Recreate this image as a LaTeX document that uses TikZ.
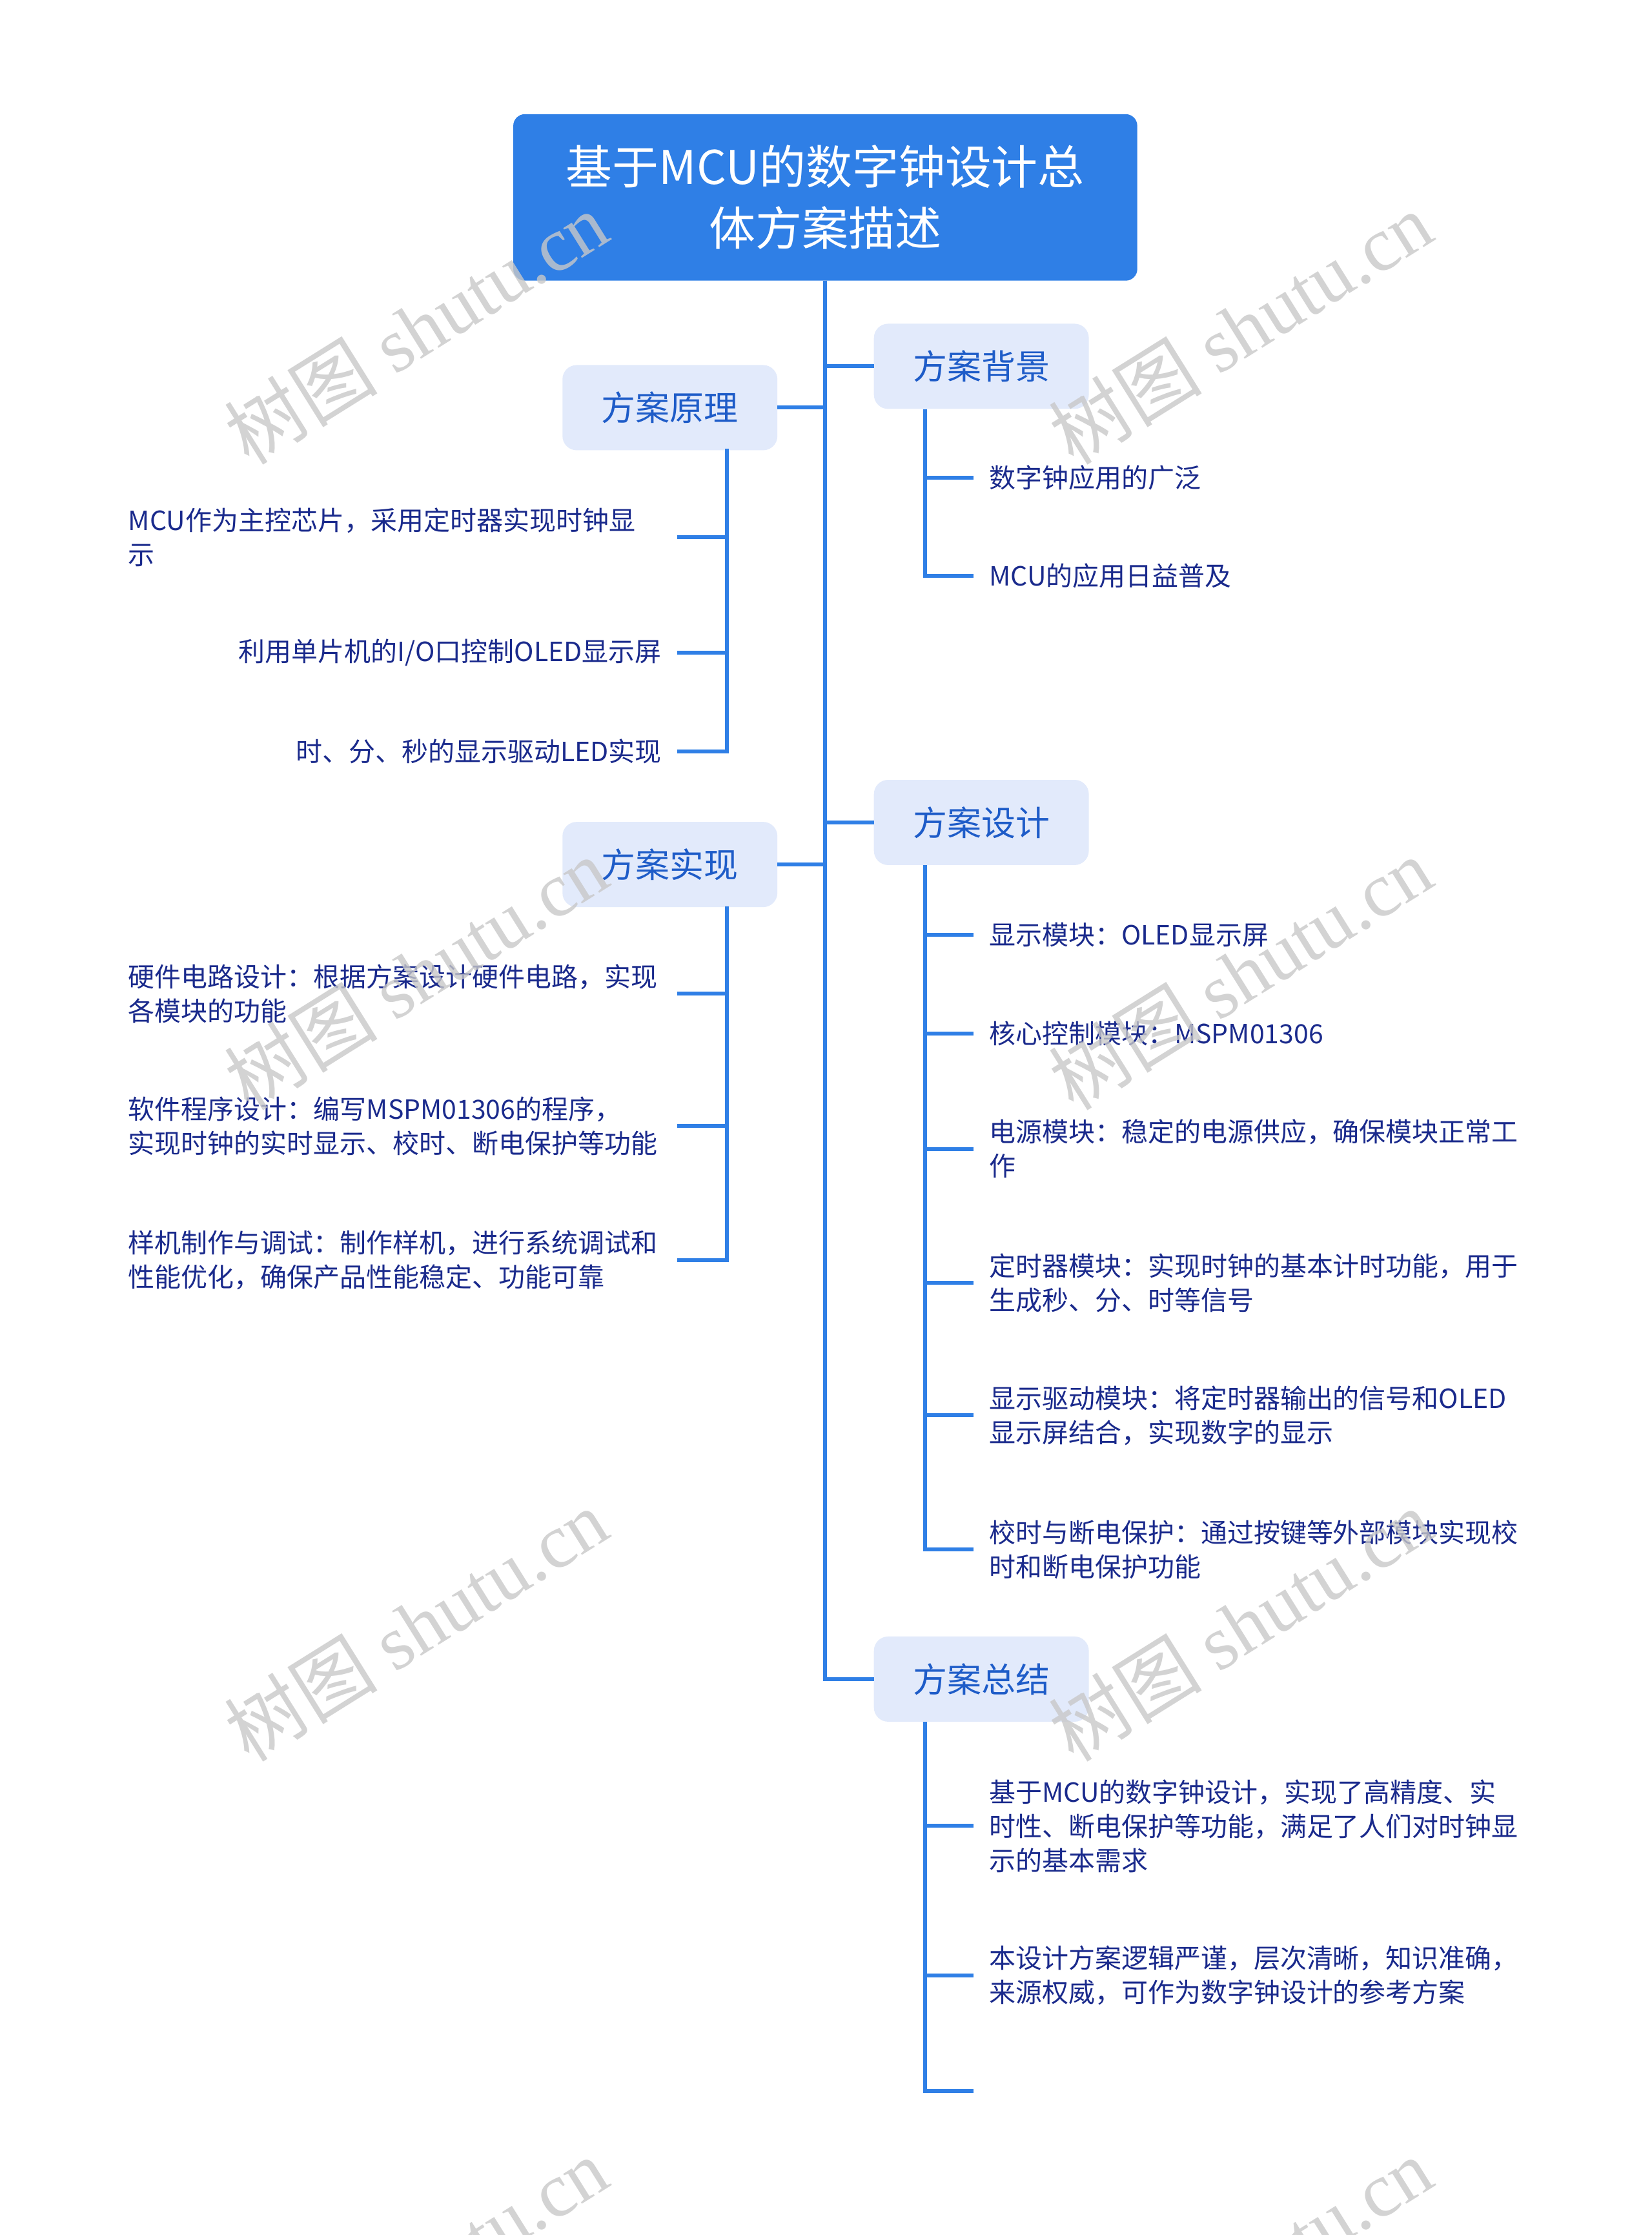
\documentclass[tikz,border=0pt]{standalone}
\usepackage{fontspec}
\setmainfont{Noto Sans CJK SC}
\newfontfamily\wmlatin{Liberation Serif}
\definecolor{mainblue}{HTML}{2F7FE6}
\definecolor{subfill}{HTML}{E2EAFB}
\definecolor{subtext}{HTML}{1E5CC8}
\definecolor{leaftext}{HTML}{1A2A8C}
\definecolor{wmgray}{HTML}{C8C8C8}
\tikzset{
  conn/.style={draw=mainblue, line width=6pt},
  rootbox/.style={fill=mainblue, rounded corners=18pt, minimum width=967pt, minimum height=258pt,
    text=white, align=center, font=\fontsize{72pt}{95pt}\selectfont},
  subbox/.style={fill=subfill, rounded corners=22pt, minimum width=333pt, minimum height=132pt,
    text=subtext, font=\fontsize{53pt}{64pt}\selectfont},
  leaf/.style={text=leaftext, font=\fontsize{41pt}{53pt}\selectfont, inner xsep=24pt, inner ysep=4pt, align=left},
  leafL/.style={leaf, anchor=east},
  leafR/.style={leaf, anchor=west},
  wide/.style={text width=826pt},
  wmark/.style={text=wmgray, text opacity=0.8, rotate=32, inner sep=0pt,
    font=\fontsize{119pt}{119pt}\selectfont}
}
\begin{document}
\begin{tikzpicture}[x=2.2088pt,y=-2.2088pt]
\useasboundingbox (0,0) rectangle (1159,1568);
\fill[white] (0,0) rectangle (1159,1568);

% root
\node[rootbox] (root) at (579,138.5) {基于MCU的数字钟设计总\\体方案描述};

% main branches
\node[subbox] (s1) at (470,286) {方案原理};
\node[subbox] (s2) at (470,606.5) {方案实现};
\node[subbox] (s3) at (688.5,257) {方案背景};
\node[subbox] (s4) at (688.5,577) {方案设计};
\node[subbox] (s5) at (688.5,1178) {方案总结};

% trunk and branch connectors
\draw[conn] (root.south) |- (s5.west);
\draw[conn] (root.south) |- (s1.east);
\draw[conn] (root.south) |- (s2.east);
\draw[conn] (root.south) |- (s3.west);
\draw[conn] (root.south) |- (s4.west);

% leaves of 方案原理
\node[leafL, wide] (a1) at (475,377) {MCU作为主控芯片，采用定时器实现时钟显\\示};
\node[leafL] (a2) at (475,458) {利用单片机的I/O口控制OLED显示屏};
\node[leafL] (a3) at (475,527) {时、分、秒的显示驱动LED实现};

% leaves of 方案实现
\node[leafL, wide] (b1) at (475,697) {硬件电路设计：根据方案设计硬件电路，实现\\各模块的功能};
\node[leafL, wide] (b2) at (475,790) {软件程序设计：编写MSPM01306的程序，\\实现时钟的实时显示、校时、断电保护等功能};
\node[leafL, wide] (b3) at (475,884) {样机制作与调试：制作样机，进行系统调试和\\性能优化，确保产品性能稳定、功能可靠};

% leaves of 方案背景
\node[leafR] (c1) at (683,335) {数字钟应用的广泛};
\node[leafR] (c2) at (683,404) {MCU的应用日益普及};

% leaves of 方案设计
\node[leafR] (d1) at (683,656) {显示模块：OLED显示屏};
\node[leafR] (d2) at (683,725) {核心控制模块：MSPM01306};
\node[leafR, wide] (d3) at (683,806) {电源模块：稳定的电源供应，确保模块正常工\\作};
\node[leafR, wide] (d4) at (683,900) {定时器模块：实现时钟的基本计时功能，用于\\生成秒、分、时等信号};
\node[leafR, wide] (d5) at (683,993) {显示驱动模块：将定时器输出的信号和OLED\\显示屏结合，实现数字的显示};
\node[leafR, wide] (d6) at (683,1087) {校时与断电保护：通过按键等外部模块实现校\\时和断电保护功能};

% leaves of 方案总结
\node[leafR, wide] (e1) at (683,1281) {基于MCU的数字钟设计，实现了高精度、实\\时性、断电保护等功能，满足了人们对时钟显\\示的基本需求};
\node[leafR, wide] (e2) at (683,1386) {本设计方案逻辑严谨，层次清晰，知识准确，\\来源权威，可作为数字钟设计的参考方案};
\coordinate (e3) at (683,1467);

% sub connectors
\coordinate (s1b) at (510,315);
\coordinate (s2b) at (510,636);
\coordinate (s3b) at (649,287);
\coordinate (s4b) at (649,607);
\coordinate (s5b) at (649,1208);
\foreach \t in {a1,a2,a3} \draw[conn] (s1b) |- (\t.east);
\foreach \t in {b1,b2,b3} \draw[conn] (s2b) |- (\t.east);
\foreach \t in {c1,c2} \draw[conn] (s3b) |- (\t.west);
\foreach \t in {d1,d2,d3,d4,d5,d6} \draw[conn] (s4b) |- (\t.west);
\foreach \t in {e1,e2} \draw[conn] (s5b) |- (\t.west);
\draw[conn] (s5b) |- (e3);

% watermarks
\foreach \wx/\wy [count=\i] in {292/230, 870/230, 292/683, 870/683, 292/1140, 870/1140, 292/1595, 870/1595}
  \node[wmark] (wm\i) at (\wx,\wy) {树图 {\wmlatin shutu.cn}};
\end{tikzpicture}
\end{document}
